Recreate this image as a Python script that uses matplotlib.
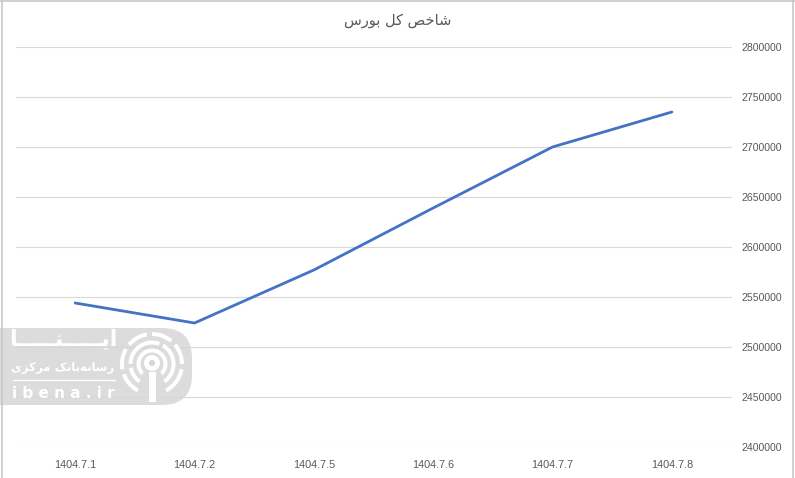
import matplotlib.pyplot as plt
from matplotlib.patches import FancyBboxPatch, Circle, Wedge, Rectangle

W, H = 795, 478

dates = ["1404.7.1", "1404.7.2", "1404.7.5", "1404.7.6", "1404.7.7", "1404.7.8"]
index_values = [2544000, 2524000, 2577000, 2639000, 2700000, 2735000]
y_ticks = list(range(2400000, 2800001, 50000))

# matplotlib does no arabic shaping or bidi: use pre-joined presentation
# forms and reverse them into visual (left to right) order
title = "\uFEB7\uFE8E\uFEA7\uFEBA \uFB90\uFEDE \uFE91\uFEEE\uFEAD\uFEB1"[::-1]
wm_name = ("\uFE8D\uFBFE" + "\u0640" * 5 + "\uFEE8" + "\u0640" * 5 + "\uFE8E")[::-1]
wm_sub = "\uFEAD\uFEB3\uFE8E\uFEE7\uFEEA\uFE91\uFE8E\uFEE7\uFB8F \uFEE3\uFEAE\uFB90\uFEB0\uFBFC"[::-1]

GREY = "#595959"
GRID = "#d9d9d9"
NUM_FONT = "Liberation Sans"

fig = plt.figure(figsize=(W / 100, H / 100), dpi=100)
ax = fig.add_axes([15.5 / W, 1 - 447 / H, 716 / W, 400 / H])

ax.plot(range(len(dates)), index_values, color="#4472C4", lw=2.0,
        solid_capstyle="round", zorder=3)

ax.set_xlim(-0.5, len(dates) - 0.5)
ax.set_ylim(2400000, 2800000)
ax.set_xticks(range(len(dates)))
ax.set_xticklabels(dates, family=NUM_FONT, fontsize=7.8)
ax.set_yticks(y_ticks)
ax.set_yticklabels([str(v) for v in y_ticks], family=NUM_FONT, fontsize=7.6)
ax.yaxis.tick_right()
ax.tick_params(axis="both", length=0, labelcolor=GREY)
ax.tick_params(axis="x", pad=9)
ax.tick_params(axis="y", pad=7.5)
ax.grid(axis="y", color=GRID, lw=0.8)
ax.set_axisbelow(True)
for s in ax.spines.values():
    s.set_visible(False)

fig.text(0.5, 1 - 20 / H, title, ha="center", va="center", fontsize=10.5,
         color=GREY, family="DejaVu Sans")

# overlay in pixel units for the sheet border and the watermark
ov = fig.add_axes([0, 0, 1, 1], zorder=5)
ov.set_xlim(0, W)
ov.set_ylim(H, 0)
ov.axis("off")

for xs, ys in [((1.5, 1.5), (0, H)), ((792.5, 792.5), (0, H)), ((0, W), (0.5, 0.5))]:
    ov.plot(xs, ys, color="#c8c8c8", lw=1.2)

ov.add_patch(FancyBboxPatch((-30, 328), 222, 77,
                            boxstyle="round,pad=0,rounding_size=30",
                            fc="#d6d6d6", ec="none", alpha=0.85))

cx, cy = 152, 364
for r, segs in [(30, [(-62, -10), (0, 40), (50, 90), (100, 140), (150, 190), (200, 242)]),
                (21.5, [(-55, 60), (70, 180), (190, 235)]),
                (13.5, [(-45, 225)])]:
    for a0, a1 in segs:
        # y axis is flipped, so negate the angles
        ov.add_patch(Wedge((cx, cy), r + 2, -a1, -a0, width=4, fc="white", ec="none"))
ov.add_patch(Circle((cx, cy - 1), 8, fc="white", ec="none"))
ov.add_patch(Circle((cx, cy - 1), 3, fc="#d6d6d6", ec="none"))
ov.add_patch(Rectangle((cx - 3.5, cy + 8), 7, 30, fc="white", ec="none"))

ov.text(63, 339, wm_name, ha="center", va="center", fontsize=16,
        color="white", weight="bold")
ov.text(63, 367, wm_sub, ha="center", va="center", fontsize=8.5,
        color="white", weight="bold")
ov.plot([13, 115], [380, 380], color="white", lw=1.0)
ov.text(63, 393, "i b e n a . i r", ha="center", va="center",
        fontsize=11, color="white", weight="bold")

fig.savefig("out.png", dpi=100)
